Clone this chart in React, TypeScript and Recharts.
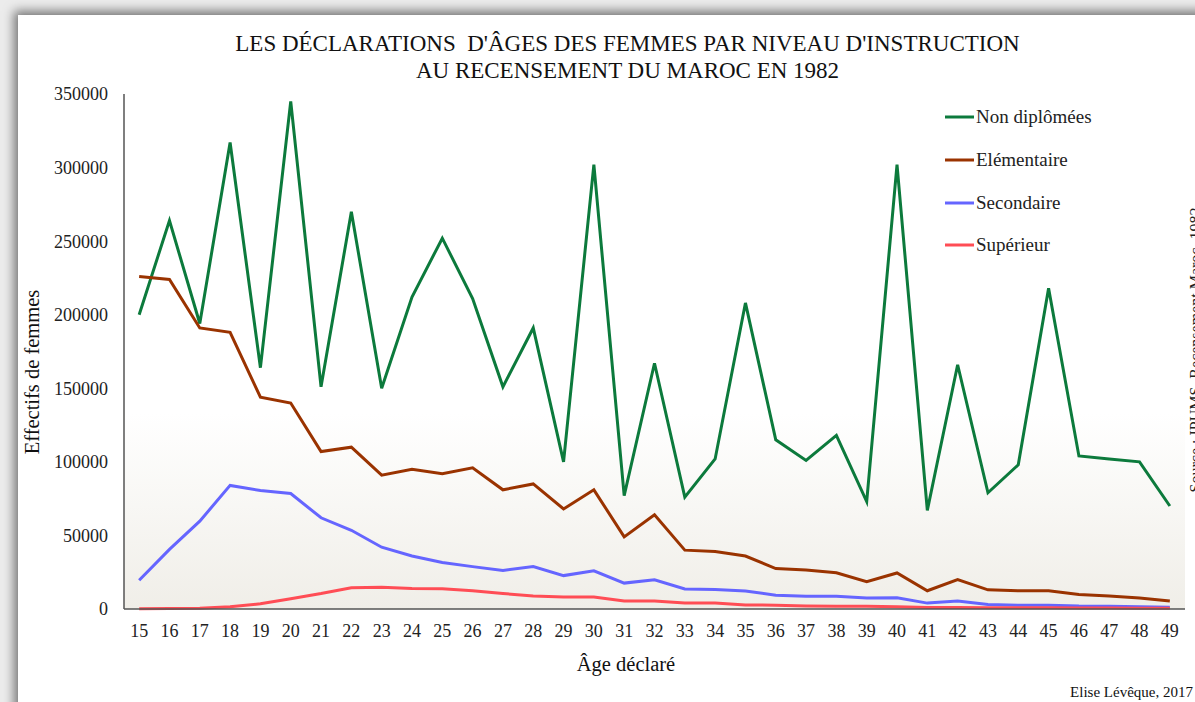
import React from 'react';
import { LineChart, Line, XAxis, YAxis, CartesianGrid, Legend } from 'recharts';

const ages = [15,16,17,18,19,20,21,22,23,24,25,26,27,28,29,30,31,32,33,34,35,36,37,38,39,40,41,42,43,44,45,46,47,48,49];
const nonDiplomees = [200000,264000,194000,317000,164000,345000,151000,270000,150000,212000,252000,211000,151000,191000,100000,302000,77000,167000,76000,102000,208000,115000,101000,118000,73000,302000,67000,166000,79000,98000,218000,104000,102000,100000,70000];
const elementaire = [226000,224000,191000,188000,144000,140000,107000,110000,91000,95000,92000,96000,81000,85000,68000,81000,49000,64000,40000,39000,36000,27500,26500,24600,18500,24500,12400,20000,13000,12400,12400,9800,8900,7500,5400];
const secondaire = [19500,40500,59700,84000,80500,78500,62000,53500,42000,36000,31600,28800,26200,28800,22700,26000,17600,19900,13600,13300,12200,9400,8700,8700,7500,7700,4000,5400,3000,2600,2600,2000,1900,1600,1200];
const superieur = [200,300,500,1600,3500,7000,10500,14500,14700,14000,13800,12400,10500,8900,8200,8200,5400,5400,4000,4000,2800,2600,2100,1900,1900,1600,1000,1000,900,900,800,700,600,500,500];
const yTicks = [0,50000,100000,150000,200000,250000,300000,350000];

const series = [
  { key: 'nd', name: 'Non diplômées', color: '#0c7a3c', values: nonDiplomees },
  { key: 'el', name: 'Elémentaire', color: '#9a3300', values: elementaire },
  { key: 'se', name: 'Secondaire', color: '#6565ff', values: secondaire },
  { key: 'su', name: 'Supérieur', color: '#ff4d55', values: superieur },
];

const data = ages.map((a, i) => {
  const row: any = { age: String(a) };
  series.forEach(s => { row[s.key] = s.values[i]; });
  return row;
});

const FONT = '"Liberation Serif", "Times New Roman", serif';

const LegendContent = (props: any) => {
  const payload = [...(props.payload || [])].sort(
    (a: any, b: any) => series.findIndex(s => s.name === a.value) - series.findIndex(s => s.name === b.value)
  );
  return (
    <div style={{ fontFamily: FONT }}>
      {payload.map((p: any) => (
        <div key={p.value} style={{ display: 'flex', alignItems: 'center', height: 42.7 }}>
          <svg width={29} height={6} style={{ marginRight: 2 }}>
            <line x1={0} y1={3} x2={29} y2={3} stroke={p.color} strokeWidth={3} />
          </svg>
          <span style={{ fontSize: 19, color: '#222' }}>{p.value}</span>
        </div>
      ))}
    </div>
  );
};

export default function App() {
  return (
    <div style={{ position: 'absolute', left: 0, top: 0, width: 1195, height: 702, overflow: 'hidden', background: '#ececec', fontFamily: FONT }}>
      <div style={{ position: 'absolute', left: 18, top: 15, width: 1200, height: 720, background: '#fff', boxShadow: '0 0 10px 4px rgba(0,0,0,0.5)' }} />
      <div style={{ position: 'absolute', left: 0, top: 30, width: 1255, textAlign: 'center', fontSize: 23, lineHeight: '27px', color: '#111' }}>
        LES DÉCLARATIONS&nbsp; D'ÂGES DES FEMMES PAR NIVEAU D'INSTRUCTION<br />AU RECENSEMENT DU MAROC EN 1982
      </div>
      <div style={{ position: 'absolute', left: 0, top: 0 }}>
        <LineChart width={1195} height={702} data={data} margin={{ top: 94, right: 10, bottom: 63, left: 0 }}>
          <defs>
            <linearGradient id="bgGrad" x1="0" y1="0" x2="0" y2="1">
              <stop offset="0" stopColor="#ffffff" />
              <stop offset="0.62" stopColor="#ffffff" />
              <stop offset="1" stopColor="#f0eee8" />
            </linearGradient>
          </defs>
          <CartesianGrid horizontal={false} vertical={false} fill="url(#bgGrad)" />
          <XAxis dataKey="age" scale="band" height={30} tickLine={false} tickSize={0} tickMargin={15} axisLine={{ stroke: '#555', strokeWidth: 1.5 }} tick={{ fontSize: 18, fill: '#222', fontFamily: FONT }} interval={0} />
          <YAxis width={124} domain={[0, 350000]} ticks={yTicks} tickLine={false} tickSize={0} tickMargin={16} axisLine={{ stroke: '#555', strokeWidth: 1.5 }} tick={{ fontSize: 18, fill: '#222', fontFamily: FONT }} interval={0} />
          <Legend layout="vertical" verticalAlign="middle" align="center" wrapperStyle={{ left: 945, top: 96, width: 220 }} content={<LegendContent />} />
          {series.map(s => (
            <Line key={s.key} type="linear" dataKey={s.key} name={s.name} stroke={s.color} strokeWidth={3} dot={false} activeDot={false} isAnimationActive={false} />
          ))}
        </LineChart>
      </div>
      <div style={{ position: 'absolute', left: 8, top: 372, width: 48, height: 0 }}>
        <div style={{ position: 'absolute', left: 24, top: 0, transform: 'translate(-50%, -50%) rotate(-90deg)', whiteSpace: 'nowrap', fontSize: 20.5, color: '#111' }}>Effectifs de femmes</div>
      </div>
      <div style={{ position: 'absolute', left: 536, top: 653, width: 180, textAlign: 'center', fontSize: 20.5, color: '#111' }}>Âge déclaré</div>
      <div style={{ position: 'absolute', right: 2, top: 684, fontSize: 15, color: '#111', whiteSpace: 'nowrap' }}>Elise Lévêque, 2017</div>
      <div style={{ position: 'absolute', left: 1196, top: 350, width: 0, height: 0 }}>
        <div style={{ position: 'absolute', left: 0, top: 0, transform: 'translate(-50%, -50%) rotate(-90deg)', whiteSpace: 'nowrap', fontSize: 16, color: '#222' }}>Source : IPUMS, Recensement Maroc, 1982</div>
      </div>
    </div>
  );
}
